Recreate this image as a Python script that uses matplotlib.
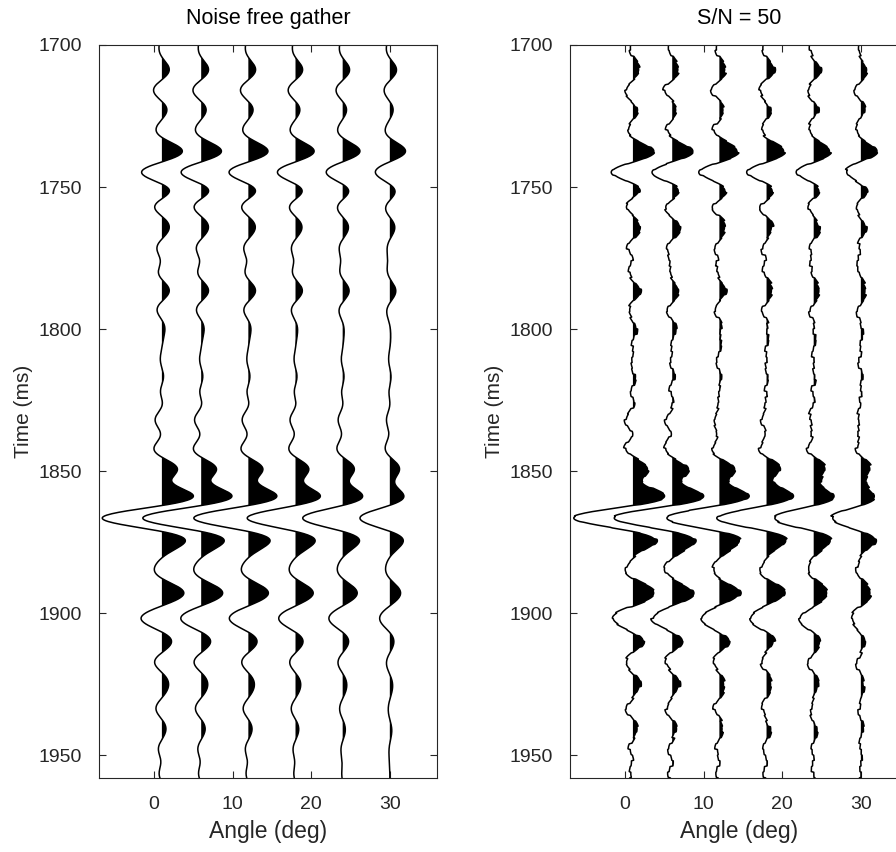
import numpy as np
import matplotlib
matplotlib.use("Agg")
import matplotlib.pyplot as plt

plt.rcParams['font.family'] = ['Liberation Sans', 'DejaVu Sans']

# ---- data ----
angles = [1, 6, 12, 18, 24, 30]                 # trace positions (deg)
panel_titles = ["Noise free gather", "S/N = 50"]
x_ticks = [0, 10, 20, 30]
y_ticks = [1700, 1750, 1800, 1850, 1900, 1950]

# times (ms) of the trace extrema, and trace value (deg) at near / far angle
ext_times = [1709, 1716, 1722.5, 1729.3, 1737.3, 1745.2, 1751, 1756.3, 1764, 1771.6,
             1780, 1786.7, 1792.8, 1804, 1811, 1817, 1823, 1831.5, 1848.6, 1852.3,
             1858.6, 1866.6, 1874.8, 1883.3, 1892.4, 1902.4, 1909.5, 1917.1, 1926.5, 1933.7,
             1941.2, 1948, 1956]
amp_near = [0.93, -1.06, 0.63, -0.72, 2.6, -2.55, 0.93, -0.85, 0.93, -0.64,
            -0.45, 0.93, -0.6, 0.15, -0.2, 0.2, -0.15, -0.85, 1.9, 1.35,
            4.0, -7.6, 2.96, -0.85, 2.75, -2.6, 1.2, -0.93, 0.76, -0.76,
            0.5, -0.45, -0.35]
amp_far = [0.85, -0.72, 0.42, -0.55, 2.0, -1.8, 0.63, -0.42, 0.63, -0.34,
           -0.3, 0.76, -0.34, 0.1, -0.15, 0.15, -0.1, -0.42, 1.2, 0.76,
           1.78, -3.8, 1.7, -0.5, 1.35, -1.27, 0.5, -0.42, 0.34, -0.2,
           0.25, -0.1, 0.0]

# additive noise samples (deg) every 2 ms for the S/N = 50 gather
noise_2ms = [0.05, -0.12, 0.18, 0.02, -0.21, -0.08, 0.14, 0.25, 0.03, -0.16,
             -0.27, -0.05, 0.11, -0.02, 0.19, 0.08, -0.14, -0.22, 0.06, 0.21,
             0.12, -0.09, -0.18, 0.04, 0.16, -0.03, -0.25, -0.11, 0.09, 0.23,
             0.07, -0.13, 0.01, 0.17, -0.06, -0.19, 0.13, 0.26, -0.04, -0.15,
             0.08, -0.23, -0.1, 0.15, 0.04, -0.07, 0.2, 0.1, -0.17, -0.01,
             0.22, -0.12, -0.26, 0.03, 0.18, 0.06, -0.09, -0.2, 0.12, 0.24,
             -0.05, -0.14, 0.07, 0.19, -0.11, 0.02, -0.24, -0.08, 0.16, 0.05,
             -0.18, 0.11, 0.27, -0.03, -0.13, 0.09, -0.06, -0.21, 0.14, 0.02,
             0.2, -0.1, -0.16, 0.06, 0.23, 0.0, -0.19, 0.13, -0.07, -0.25,
             0.1, 0.17, -0.02, -0.12, 0.21, 0.08, -0.15, -0.04, 0.18, -0.22,
             0.03, 0.15, -0.09, -0.27, 0.07, 0.25, -0.01, -0.17, 0.12, 0.04,
             -0.2, 0.09, 0.22, -0.06, -0.14, 0.16, -0.11, -0.23, 0.05, 0.19,
             0.01, -0.08, 0.14, -0.18, 0.1, 0.24, -0.05, -0.13, 0.08, -0.16, 0.02]

# ---- synthetic-trace model (Ricker wavelet) ----
F_HZ = 50.0
t = np.arange(1700.0, 1960.01, 0.25)
te = np.array(ext_times)


def ricker(dt_ms):
    a = (np.pi * F_HZ * dt_ms * 1e-3) ** 2
    return (1 - 2 * a) * np.exp(-a)


M = ricker(te[:, None] - te[None, :])
W = ricker(t[:, None] - te[None, :])
s2_far = np.sin(np.radians(30)) ** 2
near = np.array(amp_near)
far = np.array(amp_far)


def trace_for(angle):
    v = near + (far - near) * np.sin(np.radians(angle)) ** 2 / s2_far
    lam = 1e-3
    spikes = np.linalg.solve(M.T @ M + lam * np.eye(len(te)), M.T @ v)
    return W @ spikes


noise_arr = np.array(noise_2ms)
idx = np.clip(((t - 1700.0) // 2).astype(int), 0, len(noise_arr) - 1)

fig = plt.figure(figsize=(8.96, 8.52), dpi=100)
positions = [[0.1105, 0.0869, 0.3772, 0.8603], [0.6362, 0.0869, 0.3772, 0.8603]]

for p in range(2):
    ax = fig.add_axes(positions[p])
    for k, ang in enumerate(angles):
        tr = trace_for(ang)
        if p == 1:
            nk = np.roll(noise_arr, 23 * k) * (1 if k % 2 == 0 else -1)
            tr = tr + nk[idx]
        ax.fill_betweenx(t, ang, ang + tr, where=tr > 0, interpolate=True,
                         color='black', linewidth=0)
        ax.plot(ang + tr, t, color='black', linewidth=1.1)
    ax.set_xlim(-7, 36)
    ax.set_ylim(1958, 1700)
    ax.set_xticks(x_ticks)
    ax.set_yticks(y_ticks)
    ax.tick_params(direction='in', top=True, right=True, length=5, width=0.8,
                   labelsize=14, colors='#262626')
    ax.tick_params(axis='y', pad=12)
    ax.tick_params(axis='x', pad=13)
    for sp in ax.spines.values():
        sp.set_color('#262626')
        sp.set_linewidth(0.8)
    ax.set_title(panel_titles[p], fontsize=15.5, pad=15)
    ax.set_xlabel("Angle (deg)", fontsize=16.5, color='#262626', labelpad=5)
    ax.set_ylabel("Time (ms)", fontsize=15, color='#262626', labelpad=4)

fig.savefig("out.png", dpi=100, facecolor='white')
